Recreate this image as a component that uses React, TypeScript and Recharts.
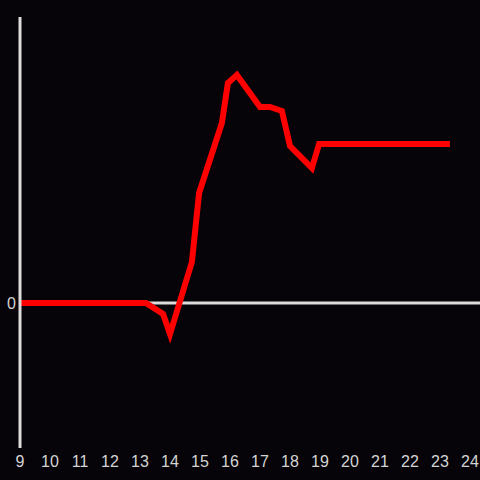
import React from "react";
import { LineChart, Line, XAxis, YAxis, ReferenceLine } from "recharts";

const xValues = [9, 13.2, 13.77, 14.0, 14.73, 14.97, 15.73, 15.93, 16.23, 17.0, 17.33, 17.73, 18.0, 18.73, 18.97, 23.33];
const yValues = [0, 0, -11, -31, 41, 110, 180, 220, 228, 196, 196, 192, 157, 135, 159, 159];
const xTicks = [9, 10, 11, 12, 13, 14, 15, 16, 17, 18, 19, 20, 21, 22, 23, 24];
const yTicks = [0];

const data = xValues.map((x, i) => ({ x, y: yValues[i] }));

const BG = "#060408";
const AXIS = "#dcdcdc";
const TEXT = "#d4d4d4";
const FONT = "'Liberation Sans', Arial, sans-serif";

const XTick = (props: any) => {
  const { x, y, payload } = props;
  return (
    <text x={x} y={y} dy="0.71em" textAnchor="middle" fill={TEXT} fontSize={16} fontFamily={FONT}>
      {payload.value}
    </text>
  );
};

const YTick = (props: any) => {
  const { x, y, payload } = props;
  return (
    <text x={x} y={y} dy="0.355em" textAnchor="end" fill={TEXT} fontSize={16} fontFamily={FONT}>
      {payload.value}
    </text>
  );
};

export default function App() {
  return (
    <div style={{ position: "absolute", left: 0, top: 0, width: 480, height: 480, background: BG }}>
      <LineChart width={480} height={480} data={data} margin={{ top: 17, right: 10, bottom: 0, left: 0 }}>
        <XAxis
          dataKey="x"
          type="number"
          domain={[9, 24]}
          ticks={xTicks}
          axisLine={false}
          tickLine={false}
          height={32}
          tickSize={6}
          tickMargin={2}
          tick={<XTick />}
          interval={0}
        />
        <YAxis
          type="number"
          domain={[-145, 286]}
          ticks={yTicks}
          width={20}
          axisLine={{ stroke: AXIS, strokeWidth: 3 }}
          tickLine={false}
          tickSize={0}
          tickMargin={4}
          tick={<YTick />}
        />
        <ReferenceLine
          segment={[{ x: 9, y: 0 }, { x: 24.34, y: 0 }]}
          stroke={AXIS}
          strokeWidth={3}
          ifOverflow="visible"
        />
        <Line
          dataKey="y"
          type="linear"
          stroke="#ff0000"
          strokeWidth={6}
          dot={false}
          isAnimationActive={false}
        />
      </LineChart>
    </div>
  );
}
